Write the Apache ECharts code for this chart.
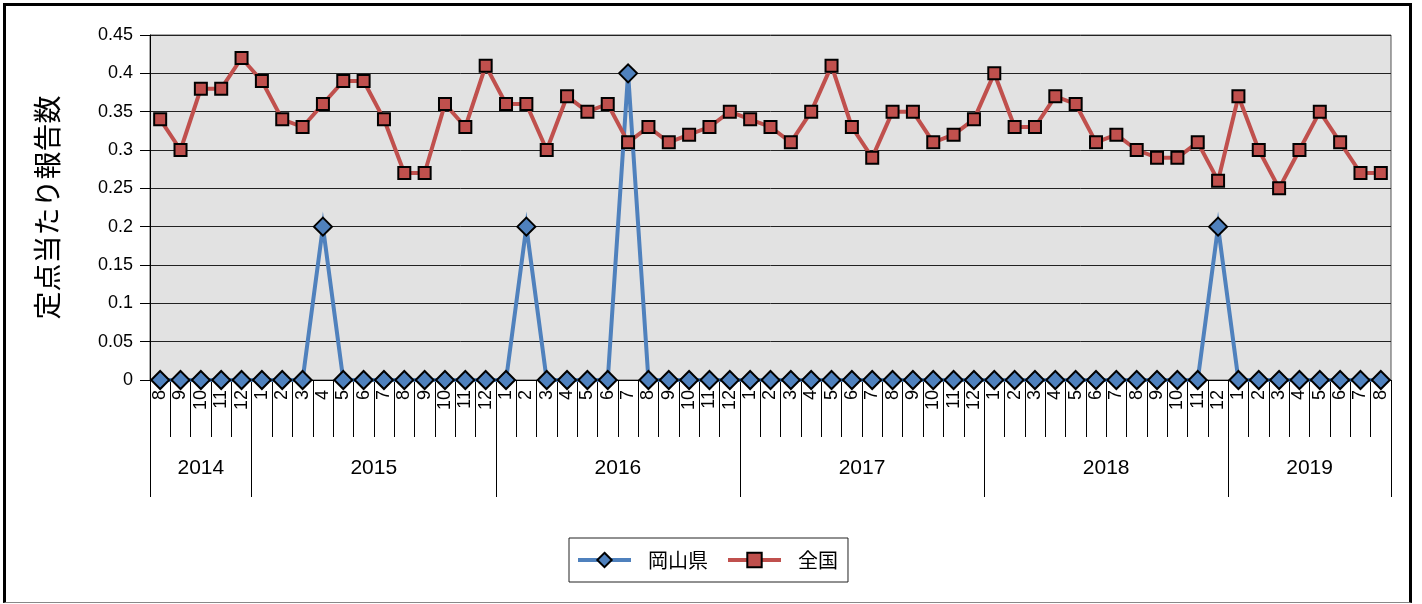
<!DOCTYPE html>
<html><head><meta charset="utf-8">
<script src="https://cdn.jsdelivr.net/npm/echarts@6/dist/echarts.min.js"></script>
<style>
html,body{margin:0;padding:0;background:#fff;}
#c{width:1422px;height:604px;position:relative;}
#frame{position:absolute;left:3px;top:3px;width:1409px;height:600px;box-sizing:border-box;border-top:3px solid #000;border-left:3px solid #000;border-right:3px solid #000;border-bottom:1px solid #888;pointer-events:none;}
</style></head>
<body>
<div id="c"></div><div id="frame"></div>
<script>
// Tick labels / categories
const years = ['2014','2015','2016','2017','2018','2019'];
const monthsPerYear = [[8,9,10,11,12],[1,2,3,4,5,6,7,8,9,10,11,12],[1,2,3,4,5,6,7,8,9,10,11,12],[1,2,3,4,5,6,7,8,9,10,11,12],[1,2,3,4,5,6,7,8,9,10,11,12],[1,2,3,4,5,6,7,8]];
const yTicks = {min:0, max:0.45, interval:0.05};
// Series values
const okayama = [0,0,0,0,0, 0,0,0,0.2,0,0,0,0,0,0,0,0, 0,0.2,0,0,0,0,0.4,0,0,0,0,0, 0,0,0,0,0,0,0,0,0,0,0,0, 0,0,0,0,0,0,0,0,0,0,0,0.2, 0,0,0,0,0,0,0,0];
const zenkoku = [0.34,0.30,0.38,0.38,0.42, 0.39,0.34,0.33,0.36,0.39,0.39,0.34,0.27,0.27,0.36,0.33,0.41, 0.36,0.36,0.30,0.37,0.35,0.36,0.31,0.33,0.31,0.32,0.33,0.35, 0.34,0.33,0.31,0.35,0.41,0.33,0.29,0.35,0.35,0.31,0.32,0.34, 0.40,0.33,0.33,0.37,0.36,0.31,0.32,0.30,0.29,0.29,0.31,0.26, 0.37,0.30,0.25,0.30,0.35,0.31,0.27,0.27];
const seriesNames = ['岡山県','全国'];

const months = [];
monthsPerYear.forEach(ms => ms.forEach(m => months.push(String(m))));
// half-month boundary slots for year axis (boundaryGap false)
const yearSlots = [];
const yearBounds = new Set();
let pos = 0;
yearBounds.add(0);
monthsPerYear.forEach((ms, i) => {
  const n = ms.length;
  for (let k = 0; k < 2 * n; k++) {
    yearSlots.push(k === n ? years[i] : '');
  }
  pos += 2 * n;
  yearBounds.add(pos);
});
yearSlots.push('');

const chart = echarts.init(document.getElementById('c'), null, {renderer:'canvas'});
const numFont = "'Liberation Sans', Arial, sans-serif";
const jpFont = "'Noto Sans CJK JP', sans-serif";
chart.setOption({
  animation:false,
  backgroundColor:'#fff',
  grid:{left:150,right:31,top:35,bottom:224,show:true,backgroundColor:'#e2e2e2',borderColor:'#555',borderWidth:1,outerBoundsMode:'none'},
  legend:{
    left:569, top:538,
    data:seriesNames,
    itemWidth:53, itemHeight:18, itemGap:18,
    padding:[12,10,12,7],
    borderColor:'#222', borderWidth:1,
    lineStyle:{width:4},
    textStyle:{fontSize:20,color:'#000',fontFamily:jpFont,padding:[0,0,0,12]}
  },
  xAxis:[
    {type:'category',data:months,boundaryGap:true,position:'bottom',
     axisLine:{show:true,lineStyle:{color:'#000',width:1}},
     axisTick:{show:true,interval:0,length:57,lineStyle:{color:'#000',width:1}},
     axisLabel:{interval:0,rotate:90,fontSize:18,margin:10,color:'#000',fontFamily:numFont}},
    {type:'category',data:yearSlots,boundaryGap:false,position:'bottom',offset:57,
     axisLine:{show:false},
     axisTick:{show:true,length:60,interval:(i)=>yearBounds.has(i),lineStyle:{color:'#000',width:1}},
     axisLabel:{interval:0,fontSize:21,margin:21,color:'#000',fontFamily:"'Liberation Sans Narrow', 'Liberation Sans', sans-serif"}}
  ],
  yAxis:{type:'value',min:yTicks.min,max:yTicks.max,interval:yTicks.interval,
    name:'定点当たり報告数',nameLocation:'middle',nameGap:89,
    nameTextStyle:{fontSize:28,color:'#000',fontFamily:jpFont},
    axisLine:{show:true,lineStyle:{color:'#000',width:1}},
    axisTick:{show:true,length:10,lineStyle:{color:'#000'}},
    axisLabel:{fontSize:18,margin:17,color:'#000',fontFamily:numFont},
    splitLine:{show:true,lineStyle:{color:'#222',width:1}}
  },
  series:[
    {name:seriesNames[0],type:'line',xAxisIndex:0,data:okayama,
     symbol:'diamond',symbolSize:18,showAllSymbol:true,
     lineStyle:{color:'#4f81bd',width:4,join:'miter'},
     itemStyle:{color:'#4f81bd',borderColor:'#000',borderWidth:2}},
    {name:seriesNames[1],type:'line',xAxisIndex:0,data:zenkoku,
     symbol:'rect',symbolSize:12,showAllSymbol:true,
     lineStyle:{color:'#c0504d',width:4},
     itemStyle:{color:'#c0504d',borderColor:'#000',borderWidth:2}}
  ]
});
</script>
</body></html>
